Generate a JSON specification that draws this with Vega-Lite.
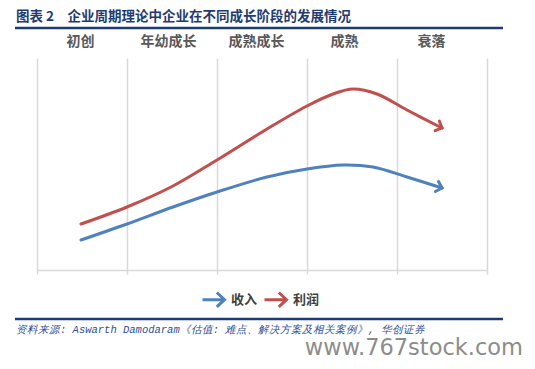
{
  "$schema": "https://vega.github.io/schema/vega-lite/v6.json",
  "width": 450,
  "height": 212,
  "autosize": {"type": "none"},
  "padding": {"left": 37, "top": 58, "right": 48, "bottom": 99},
  "background": "white",
  "config": {"view": {"stroke": null}, "font": "Noto Sans CJK SC"},
  "title": {
    "text": "图表 2　企业周期理论中企业在不同成长阶段的发展情况",
    "anchor": "start",
    "frame": "group",
    "dx": -21,
    "fontSize": 13.5,
    "fontWeight": "bold",
    "color": "#1F3B73",
    "offset": 3,
    "font": "Noto Sans CJK SC"
  },
  "datasets": {
    "lines": [
      {"series": "利润", "x": 44, "y": 46},
      {"series": "利润", "x": 90, "y": 63},
      {"series": "利润", "x": 136, "y": 84},
      {"series": "利润", "x": 180, "y": 110},
      {"series": "利润", "x": 230, "y": 141},
      {"series": "利润", "x": 270, "y": 164},
      {"series": "利润", "x": 296, "y": 176},
      {"series": "利润", "x": 316, "y": 181},
      {"series": "利润", "x": 340, "y": 176},
      {"series": "利润", "x": 370, "y": 160},
      {"series": "利润", "x": 405, "y": 142},
      {"series": "收入", "x": 44, "y": 30},
      {"series": "收入", "x": 90, "y": 46},
      {"series": "收入", "x": 136, "y": 63},
      {"series": "收入", "x": 180, "y": 78},
      {"series": "收入", "x": 230, "y": 93},
      {"series": "收入", "x": 270, "y": 101},
      {"series": "收入", "x": 306, "y": 105},
      {"series": "收入", "x": 336, "y": 103},
      {"series": "收入", "x": 370, "y": 93},
      {"series": "收入", "x": 405, "y": 82}
    ],
    "tips": [
      {"series": "利润", "x": 405, "y": 142},
      {"series": "收入", "x": 405, "y": 82}
    ]
  },
  "layer": [
    {
      "data": {"name": "lines"},
      "mark": {"type": "line", "interpolate": "catmull-rom", "strokeWidth": 3, "strokeCap": "round"},
      "encoding": {
        "x": {
          "field": "x", "type": "quantitative",
          "scale": {"domain": [0, 450], "nice": false, "zero": false},
          "axis": {
            "orient": "bottom", "values": [0, 90, 180, 270, 360, 450],
            "grid": true, "gridColor": "#D9D9D9", "gridWidth": 1.5,
            "domainColor": "#D9D9D9", "domainWidth": 1.5,
            "ticks": true, "tickSize": 4, "tickColor": "#D9D9D9", "tickWidth": 1.5,
            "labels": false, "title": null
          }
        },
        "y": {"field": "y", "type": "quantitative", "scale": {"domain": [0, 212], "nice": false}, "axis": null},
        "color": {
          "field": "series", "type": "nominal",
          "scale": {"domain": ["收入", "利润"], "range": ["#4F81BD", "#C0504D"]},
          "legend": {
            "orient": "none", "legendX": 164, "legendY": 229, "direction": "horizontal",
            "title": null,
            "symbolType": "M-1,0L1,0M0.3,-0.65L1,0L0.3,0.65",
            "symbolSize": 484, "symbolStrokeWidth": 3, "symbolFillColor": "transparent",
            "labelFontSize": 13, "labelFontWeight": "bold", "labelColor": "#404040",
            "labelOffset": 5, "columnPadding": 0, "labelFont": "Noto Sans CJK SC"
          }
        }
      }
    },
    {
      "data": {"name": "tips"},
      "transform": [{"filter": "datum.series == '利润'"}],
      "mark": {"type": "point", "shape": "M-1,-1L0,0L-1,1", "filled": false, "strokeWidth": 3, "size": 110, "opacity": 1, "color": "#C0504D", "angle": 24, "strokeCap": "round"},
      "encoding": {
        "x": {
          "field": "x", "type": "quantitative",
          "axis": {
            "orient": "top", "values": [43, 131, 219, 307, 394],
            "labelExpr": "datum.value == 43 ? '初创' : datum.value == 131 ? '年幼成长' : datum.value == 219 ? '成熟成长' : datum.value == 307 ? '成熟' : '衰落'",
            "domain": false, "ticks": false, "grid": false,
            "labelFontSize": 14, "labelFontWeight": "bold", "labelColor": "#595959",
            "labelPadding": 10, "labelOverlap": false, "labelFlush": false, "title": null,
            "labelFont": "Noto Sans CJK SC"
          }
        },
        "y": {"field": "y", "type": "quantitative"}
      }
    },
    {
      "data": {"name": "tips"},
      "transform": [{"filter": "datum.series == '收入'"}],
      "mark": {"type": "point", "shape": "M-1,-1L0,0L-1,1", "filled": false, "strokeWidth": 3, "size": 110, "opacity": 1, "color": "#4F81BD", "angle": 17, "strokeCap": "round"},
      "encoding": {
        "x": {"field": "x", "type": "quantitative", "axis": null},
        "y": {"field": "y", "type": "quantitative"}
      }
    },
    {
      "data": {"values": [{}]},
      "mark": {"type": "rule", "color": "#1F3B73", "strokeWidth": 2.5},
      "encoding": {"x": {"value": -22}, "x2": {"value": 466}, "y": {"value": -30}}
    },
    {
      "data": {"values": [{}]},
      "mark": {"type": "rule", "color": "#1F3B73", "strokeWidth": 2.5},
      "encoding": {"x": {"value": -22}, "x2": {"value": 466}, "y": {"value": 261}}
    },
    {
      "data": {"values": [{}]},
      "mark": {"type": "text", "align": "left", "baseline": "middle", "fontStyle": "italic", "fontSize": 10.5, "color": "#2E4F9A", "font": "Liberation Mono"},
      "encoding": {"x": {"value": -21}, "y": {"value": 272}, "text": {"value": "资料来源: Aswarth Damodaram《估值: 难点、解决方案及相关案例》, 华创证券"}}
    },
    {
      "data": {"values": [{}]},
      "mark": {"type": "text", "align": "right", "baseline": "alphabetic", "fontSize": 22.5, "color": "#8C8C8C", "font": "DejaVu Sans"},
      "encoding": {"x": {"value": 486}, "y": {"value": 297}, "text": {"value": "www.767stock.com"}}
    }
  ],
  "resolve": {"axis": {"x": "independent"}}
}
